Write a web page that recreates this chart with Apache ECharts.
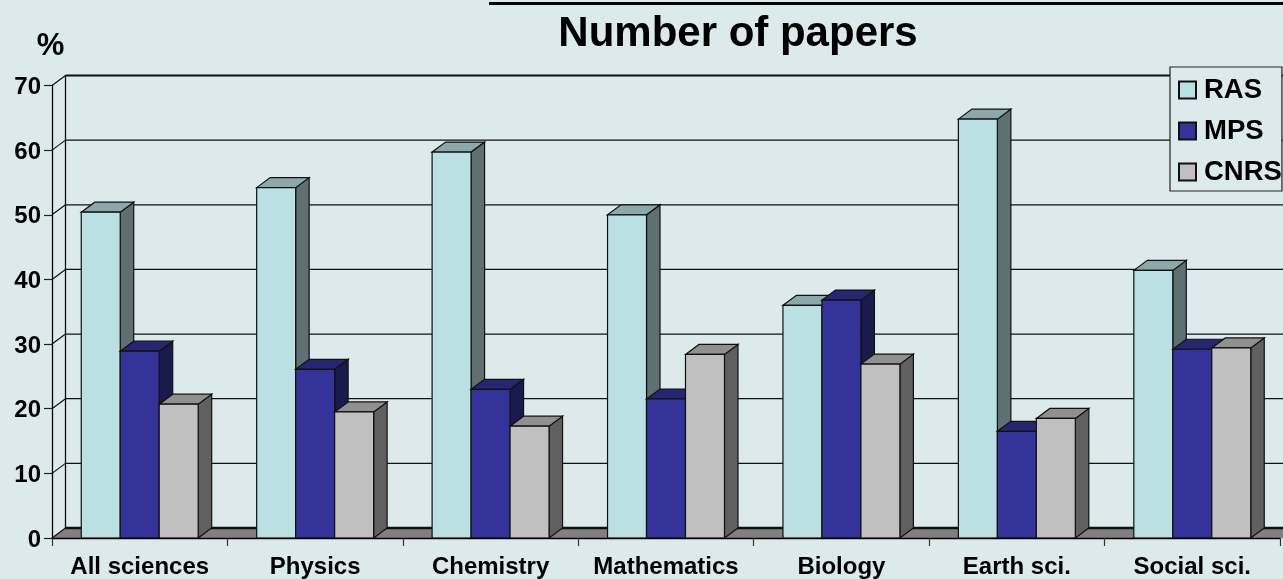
<!DOCTYPE html>
<html>
<head>
<meta charset="utf-8">
<style>html,body{margin:0;padding:0;background:#DDEAEB;overflow:hidden}#c{width:1283px;height:579px}</style>
<script src="https://cdn.jsdelivr.net/npm/echarts@6/dist/echarts.min.js"></script>
</head>
<body>
<div id="c"></div>
<script>
const categories = ['All sciences','Physics','Chemistry','Mathematics','Biology','Earth sci.','Social sci.'];
const RAS  = [50.4, 54.2, 59.7, 50.0, 36.0, 64.8, 41.4];
const MPS  = [28.9, 26.1, 23.0, 21.5, 36.8, 16.5, 29.2];
const CNRS = [20.7, 19.5, 17.3, 28.4, 26.9, 18.5, 29.4];
const yTicks = [0,10,20,30,40,50,60,70];

const DX = 13.5, DY = 10, EDGE = '#111';
const FONT = '"Liberation Sans", Arial, sans-serif';
const palette = {
  RAS:  {face:'#BBE0E3', top:'#8CA8AA', side:'#5E7071'},
  MPS:  {face:'#333399', top:'#262673', side:'#1A1A4D'},
  CNRS: {face:'#C0C0C0', top:'#909090', side:'#606060'}
};

function poly(points, fill, lw){
  return {type:'polygon', shape:{points}, style:{fill, stroke:EDGE, lineWidth:lw === undefined ? 1.2 : lw}};
}
function barSeries(name, values, slot){
  const c = palette[name];
  return {
    name, type:'custom', coordinateSystem:'cartesian2d', z:3, silent:true,
    itemStyle:{color:c.face, borderColor:EDGE, borderWidth:1},
    encode:{x:0, y:1},
    data: values.map((v,i)=>[i,v]),
    renderItem(params, api){
      const p = api.coord([api.value(0), api.value(1)]);
      const base = api.coord([api.value(0), 0]);
      const w = api.size([1,0])[0] * 0.2222;
      const x0 = p[0] + (slot - 0.5) * w - w, x1 = x0 + w;
      const yt = p[1], yb = base[1];
      return {type:'group', children:[
        poly([[x1,yt],[x1+DX,yt-DY],[x1+DX,yb-DY],[x1,yb]], c.side),
        poly([[x0,yt],[x0+DX,yt-DY],[x1+DX,yt-DY],[x1,yt]], c.top),
        poly([[x0,yt],[x1,yt],[x1,yb],[x0,yb]], c.face)
      ]};
    }
  };
}
// back wall, side wall and floor of the 3-D box
const gridSeries = {
  name:'grid', type:'custom', coordinateSystem:'cartesian2d', z:1, silent:true,
  encode:{x:0, y:1},
  data: yTicks.map(t=>[0,t]),
  renderItem(params, api){
    const r = params.coordSys;
    const v = api.value(1);
    const y = api.coord([0, v])[1];
    const line = (x1,y1,x2,y2,lw,col)=>({type:'line', shape:{x1,y1,x2,y2}, style:{stroke:col||EDGE, lineWidth:lw}});
    const xl = r.x, xb = r.x + DX, xr = r.x + r.width + 20;
    const ch = [];
    if (v === 0) {
      ch.push(poly([[xl,y],[xb,y-DY],[xr,y-DY],[xr,y]], '#808080', 0));
      ch.push(line(xb,y-DY,xr,y-DY,2.5));
      ch.push(line(xb,y-DY,xb,api.coord([0,70])[1]-DY,1.3));
    } else {
      ch.push(line(xb,y-DY,xr,y-DY,v === 70 ? 2 : 1.3));
    }
    ch.push(line(xl,y,xb,y-DY,1.2));
    return {type:'group', children:ch};
  }
};

const chart = echarts.init(document.getElementById('c'));
chart.setOption({
  animation:false,
  backgroundColor:'#DDEAEB',
  title:{
    text:'Number of papers', left:733, top:8, textAlign:'center',
    textStyle:{fontFamily:FONT, fontWeight:'bold', fontSize:42, color:'#000'}
  },
  legend:{
    data:['RAS','MPS','CNRS'], orient:'vertical', left:1170, top:67,
    padding:[9,0,5,8], itemGap:13, itemWidth:17, itemHeight:17, icon:'rect',
    backgroundColor:'#DDEAEB', borderColor:'#222', borderWidth:1.2, z:6,
    selectedMode:false,
    textStyle:{fontFamily:FONT, fontWeight:'bold', fontSize:27.5, color:'#000', lineHeight:27, padding:[0,0,0,3]}
  },
  grid:{left:52, right:3, top:85.5, bottom:41, containLabel:false},
  xAxis:{
    type:'category', data:categories, z:5,
    axisLine:{lineStyle:{color:'#000', width:1.3}},
    axisTick:{show:true, length:8, lineStyle:{color:'#333', width:1.2}},
    axisLabel:{fontFamily:FONT, fontWeight:'bold', fontSize:24, color:'#000', margin:17, interval:0},
    splitLine:{show:false}
  },
  yAxis:{
    type:'value', min:0, max:70, interval:10, z:5,
    name:'%', nameLocation:'end', nameGap:24,
    nameTextStyle:{fontFamily:FONT, fontWeight:'bold', fontSize:31, color:'#000', padding:[0,3,0,0]},
    axisLine:{show:true, lineStyle:{color:'#000', width:1.3}},
    axisTick:{show:true, length:8, lineStyle:{color:'#222', width:1.2}},
    axisLabel:{fontFamily:FONT, fontWeight:'bold', fontSize:24, color:'#000', margin:11, lineHeight:24, verticalAlign:'bottom', padding:[0,0,-14,0]},
    splitLine:{show:false}
  },
  series:[gridSeries, barSeries('RAS',RAS,0), barSeries('MPS',MPS,1), barSeries('CNRS',CNRS,2)],
  graphic:[{type:'rect', shape:{x:489,y:2,width:794,height:3}, style:{fill:'#000'}, z:10, silent:true}]
});
</script>
</body>
</html>
